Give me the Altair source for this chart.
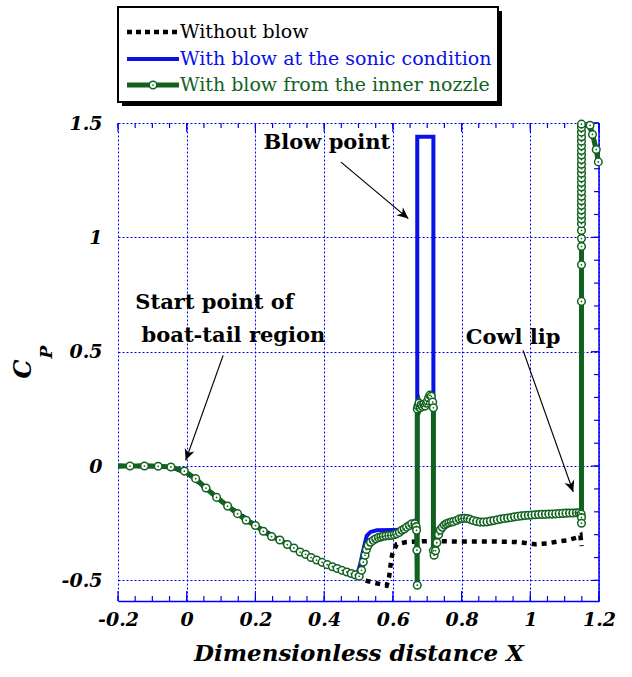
import altair as alt
import pandas as pd

# ---------------- data ----------------
# Without blow
nb_x = [-0.2, -0.1, -0.05, 0.0, 0.1, 0.2, 0.3, 0.4, 0.5, 0.519, 0.548, 0.582, 0.589, 0.593,
        0.598, 0.611, 0.64, 0.703, 0.8, 0.9, 0.96, 0.985, 1.014, 1.05, 1.08, 1.106, 1.135, 1.146, 1.149]
nb_y = [0.0, 0.0, -0.004, -0.028, -0.152, -0.26, -0.35, -0.426, -0.482, -0.5, -0.511, -0.523, -0.485, -0.437,
        -0.387, -0.342, -0.332, -0.328, -0.33, -0.33, -0.332, -0.336, -0.342, -0.338, -0.33, -0.325, -0.313, -0.303, -0.35]

# With blow at the sonic condition
sb_x = [-0.2, -0.1, -0.05, 0.0, 0.1, 0.2, 0.3, 0.4, 0.495, 0.505, 0.515, 0.524, 0.535, 0.553, 0.6,
        0.62, 0.635, 0.65, 0.662, 0.671, 0.671, 0.718, 0.718, 0.725, 0.732, 0.747, 0.762, 0.78, 0.8, 0.82,
        0.85, 0.9, 0.95, 1.0, 1.05, 1.1, 1.147, 1.149, 1.149, 1.17, 1.185, 1.2]
sb_y = [0.0, 0.0, -0.004, -0.028, -0.152, -0.26, -0.35, -0.426, -0.478, -0.43, -0.36, -0.305, -0.288, -0.281, -0.28,
        -0.279, -0.274, -0.258, -0.24, -0.235, 1.44, 1.44, -0.31, -0.29, -0.274, -0.249, -0.24, -0.233, -0.228, -0.23,
        -0.24, -0.236, -0.223, -0.215, -0.21, -0.206, -0.204, -0.22, 1.495, 1.49, 1.43, 1.33]

# With blow from the inner nozzle
gn_x = [-0.2, -0.165, -0.123, -0.083, -0.046, -0.007, 0.026, 0.056, 0.087, 0.119, 0.148, 0.173, 0.2,
        0.223, 0.247, 0.271, 0.293, 0.312, 0.33, 0.346, 0.362, 0.378, 0.394, 0.409, 0.424, 0.438,
        0.452, 0.466, 0.479, 0.491, 0.502, 0.509, 0.514, 0.519, 0.523, 0.528, 0.535, 0.543,
        0.55, 0.558, 0.565, 0.572, 0.58, 0.588, 0.596, 0.604, 0.611, 0.619, 0.626, 0.633, 0.64,
        0.648, 0.655, 0.664, 0.668, 0.669, 0.67, 0.671, 0.671, 0.673, 0.676, 0.679, 0.682, 0.686,
        0.69, 0.694, 0.698, 0.701, 0.704, 0.708, 0.712, 0.716, 0.718, 0.718, 0.72, 0.724, 0.728,
        0.733, 0.738, 0.744, 0.75, 0.756, 0.763, 0.77, 0.777, 0.785, 0.793, 0.801, 0.809, 0.817,
        0.825, 0.834, 0.844, 0.854, 0.864, 0.874, 0.884, 0.894, 0.904, 0.914, 0.924, 0.934, 0.944,
        0.954, 0.964, 0.974, 0.984, 0.994, 1.004, 1.014, 1.024, 1.034, 1.044, 1.054, 1.064, 1.074,
        1.084, 1.094, 1.104, 1.114, 1.124, 1.134, 1.142, 1.148, 1.149, 1.149,
        1.149, 1.149, 1.149, 1.149, 1.149, 1.149, 1.149, 1.149, 1.149, 1.149, 1.149, 1.149, 1.149,
        1.149, 1.149, 1.149, 1.149, 1.149, 1.149, 1.149, 1.149, 1.149, 1.149, 1.149, 1.149, 1.149,
        1.149, 1.149, 1.174, 1.181, 1.192, 1.198]
gn_y = [0.0, 0.0, 0.0, -0.001, -0.004, -0.022, -0.055, -0.096, -0.137, -0.175, -0.208, -0.237, -0.26,
        -0.285, -0.308, -0.323, -0.343, -0.358, -0.376, -0.386, -0.4, -0.411, -0.421, -0.431, -0.44, -0.448,
        -0.456, -0.463, -0.47, -0.476, -0.482, -0.456, -0.42, -0.39, -0.365, -0.347, -0.333, -0.325,
        -0.318, -0.313, -0.31, -0.307, -0.305, -0.304, -0.303, -0.3, -0.296, -0.29, -0.281, -0.275, -0.267,
        -0.26, -0.252, -0.252, -0.265, -0.281, -0.368, -0.521, 0.25, 0.262, 0.275, 0.255, 0.268, 0.26,
        0.27, 0.263, 0.275, 0.285, 0.298, 0.31, 0.305, 0.28, 0.255, -0.37, -0.39, -0.37, -0.335,
        -0.3, -0.28, -0.268, -0.258, -0.252, -0.248, -0.245, -0.243, -0.238, -0.232, -0.229, -0.228, -0.229,
        -0.233, -0.238, -0.242, -0.245, -0.245, -0.244, -0.241, -0.238, -0.235, -0.232, -0.229, -0.227, -0.225,
        -0.222, -0.22, -0.218, -0.216, -0.215, -0.214, -0.213, -0.212, -0.211, -0.211, -0.21, -0.21, -0.209,
        -0.208, -0.207, -0.206, -0.205, -0.205, -0.204, -0.204, -0.21, -0.225, -0.25,
        0.72, 0.88, 0.96, 0.995, 1.03, 1.06, 1.08, 1.10, 1.12, 1.14, 1.16, 1.18, 1.20,
        1.22, 1.24, 1.26, 1.28, 1.30, 1.32, 1.34, 1.36, 1.38, 1.40, 1.42, 1.44, 1.46,
        1.48, 1.495, 1.49, 1.45, 1.384, 1.33]

series_labels = ["Without blow", "With blow at the sonic condition", "With blow from the inner nozzle"]
series_colors = ["#000000", "#0a10e8", "#12621f"]

x_major = [-0.2, 0, 0.2, 0.4, 0.6, 0.8, 1, 1.2]
y_major = [-0.5, 0, 0.5, 1, 1.5]
x_minor = [round(-0.2 + 0.05 * i, 2) for i in range(29)]
y_minor = [round(-0.5 + 0.1 * i, 1) for i in range(21)]

# annotations (data coordinates)
ann_text = ["Blow point", "Start point of", "boat-tail region", "Cowl lip"]
ann_tx = [0.408, 0.081, 0.136, 0.95]
ann_ty = [1.411, 0.712, 0.567, 0.559]
arr_x = [0.449, 0.106, 0.979]
arr_y = [1.329, 0.484, 0.506]
arr_x2 = [0.645, -0.003, 1.125]
arr_y2 = [1.082, 0.025, -0.113]
arr_ang = [130, 200, 160]

W, H = 481, 478
BLUE = "#0000ff"
SERIF = "DejaVu Serif"

xs = alt.Scale(domain=[-0.2, 1.2], nice=False, zero=False)
ys = alt.Scale(domain=[-0.59, 1.5], nice=False, zero=False)


def df_series(xv, yv):
    return pd.DataFrame({"x": xv, "y": yv, "i": list(range(len(xv)))})


nb_df = df_series(nb_x, nb_y)
sb_df = df_series(sb_x, sb_y)
gn_df = df_series(gn_x, gn_y)

X = alt.X("x:Q", scale=xs, axis=alt.Axis(
    values=x_major, labelExpr="datum.value + ''", ticks=False,
    domainColor=BLUE, domainWidth=1.5, grid=True, gridColor=BLUE, gridDash=[2, 2], gridWidth=1,
    labelFont=SERIF, labelFontWeight="bold", labelFontStyle="italic", labelFontSize=19,
    labelColor="black", labelPadding=9, labelFlush=False,
    title="Dimensionless distance X", titleFont=SERIF, titleFontWeight="bold",
    titleFontStyle="italic", titleFontSize=23, titleColor="black", titlePadding=13))
Y = alt.Y("y:Q", scale=ys, axis=alt.Axis(
    values=y_major, labelExpr="datum.value + ''", ticks=False, domain=False,
    grid=True, gridColor=BLUE, gridDash=[2, 2], gridWidth=1,
    labelFont=SERIF, labelFontWeight="bold", labelFontStyle="italic", labelFontSize=19,
    labelColor="black", labelPadding=16, title=None))

base_axes = alt.Chart(nb_df).mark_line(opacity=0).encode(x=X, y=Y)

line_nb = alt.Chart(nb_df).mark_line(color=series_colors[0], strokeWidth=4.5, strokeDash=[5, 5]).encode(
    x=alt.X("x:Q", scale=xs), y=alt.Y("y:Q", scale=ys), order="i:Q")
line_sb = alt.Chart(sb_df).mark_line(color=series_colors[1], strokeWidth=4).encode(
    x=alt.X("x:Q", scale=xs), y=alt.Y("y:Q", scale=ys), order="i:Q")
line_gn = alt.Chart(gn_df).mark_line(color=series_colors[2], strokeWidth=5).encode(
    x=alt.X("x:Q", scale=xs), y=alt.Y("y:Q", scale=ys), order="i:Q")
mk_gn = alt.Chart(gn_df).transform_filter("datum.x > -0.19").mark_point(
    shape="circle", size=58, filled=True, fill="white", stroke=series_colors[2], strokeWidth=1.5, opacity=1).encode(
    x=alt.X("x:Q", scale=xs), y=alt.Y("y:Q", scale=ys))
dot_gn = alt.Chart(gn_df).transform_filter("datum.x > -0.19").mark_point(
    shape="circle", size=3, filled=True, color=series_colors[2], opacity=1).encode(
    x=alt.X("x:Q", scale=xs), y=alt.Y("y:Q", scale=ys))

# ticks (inward) on bottom, top and right
tick_xmin = pd.DataFrame({"x": x_minor})
tick_xmaj = pd.DataFrame({"x": x_major})
tick_ymin = pd.DataFrame({"y": y_minor})
tick_ymaj = pd.DataFrame({"y": y_major})
tk = dict(color=BLUE, strokeWidth=1.2)
ticks = [
    alt.Chart(tick_xmin).mark_rule(**tk).encode(x=alt.X("x:Q", scale=xs), y=alt.value(H), y2=alt.value(H - 5)),
    alt.Chart(tick_xmaj).mark_rule(**tk).encode(x=alt.X("x:Q", scale=xs), y=alt.value(H), y2=alt.value(H - 10)),
    alt.Chart(tick_xmin).mark_rule(**tk).encode(x=alt.X("x:Q", scale=xs), y=alt.value(0), y2=alt.value(5)),
    alt.Chart(tick_xmaj).mark_rule(**tk).encode(x=alt.X("x:Q", scale=xs), y=alt.value(0), y2=alt.value(9)),
    alt.Chart(tick_ymin).mark_rule(**tk).encode(y=alt.Y("y:Q", scale=ys), x=alt.value(W), x2=alt.value(W - 5)),
    alt.Chart(tick_ymaj).mark_rule(**tk).encode(y=alt.Y("y:Q", scale=ys), x=alt.value(W), x2=alt.value(W - 8)),
]
one = pd.DataFrame({"a": [0]})
right_edge = alt.Chart(one).mark_rule(color=BLUE, strokeWidth=1.5).encode(
    x=alt.value(W), y=alt.value(0), y2=alt.value(H))

# annotations
ann_df = pd.DataFrame({"x": ann_tx, "y": ann_ty, "t": ann_text})
ann = alt.Chart(ann_df).mark_text(font=SERIF, fontWeight="bold", fontSize=21, color="black").encode(
    x=alt.X("x:Q", scale=xs), y=alt.Y("y:Q", scale=ys), text="t:N")
arr_df = pd.DataFrame({"x": arr_x, "y": arr_y, "x2": arr_x2, "y2": arr_y2, "a": arr_ang})
shafts = alt.Chart(arr_df).mark_rule(color="black", strokeWidth=1.2).encode(
    x=alt.X("x:Q", scale=xs), y=alt.Y("y:Q", scale=ys), x2="x2:Q", y2="y2:Q")
heads = alt.Chart(arr_df).mark_point(
    shape="M0,0L-0.45,1L0,0.7L0.45,1Z", size=520, filled=True, color="black", opacity=1).encode(
    x=alt.X("x2:Q", scale=xs), y=alt.Y("y2:Q", scale=ys), angle=alt.Angle("a:Q", scale=None))

# C_P y title
cp_c = alt.Chart(one).mark_text(text="C", font=SERIF, fontWeight="bold", fontStyle="italic", fontSize=24,
                                angle=270, baseline="middle", color="black").encode(
    x=alt.value(-94), y=alt.value(246))
cp_p = alt.Chart(one).mark_text(text="P", font=SERIF, fontWeight="bold", fontStyle="italic", fontSize=17,
                                angle=270, baseline="middle", color="black").encode(
    x=alt.value(-71), y=alt.value(229))

# legend
leg = [
    alt.Chart(one).mark_rect(fill="black").encode(x=alt.value(4), x2=alt.value(384), y=alt.value(-112), y2=alt.value(-17)),
    alt.Chart(one).mark_rect(fill="white", stroke="black", strokeWidth=2).encode(
        x=alt.value(0), x2=alt.value(380), y=alt.value(-116), y2=alt.value(-21)),
    alt.Chart(one).mark_rule(color=series_colors[0], strokeWidth=4.5, strokeDash=[5, 4]).encode(
        x=alt.value(9), x2=alt.value(61), y=alt.value(-91)),
    alt.Chart(one).mark_rule(color=series_colors[1], strokeWidth=4).encode(
        x=alt.value(9), x2=alt.value(61), y=alt.value(-64)),
    alt.Chart(one).mark_rule(color=series_colors[2], strokeWidth=5).encode(
        x=alt.value(9), x2=alt.value(61), y=alt.value(-38)),
    alt.Chart(one).mark_point(shape="circle", size=58, filled=True, fill="white", stroke=series_colors[2],
                              strokeWidth=1.5, opacity=1).encode(x=alt.value(35), y=alt.value(-38)),
    alt.Chart(one).mark_point(shape="circle", size=3, filled=True, color=series_colors[2], opacity=1).encode(
        x=alt.value(35), y=alt.value(-38)),
]
for lab, col, yy in zip(series_labels, series_colors, [-91, -64, -38]):
    leg.append(alt.Chart(one).mark_text(text=lab, font=SERIF, fontSize=19, color=col, align="left",
                                        baseline="middle").encode(x=alt.value(62), y=alt.value(yy)))

chart = alt.layer(
    base_axes, *ticks, right_edge, line_nb, line_sb, line_gn, mk_gn, dot_gn,
    shafts, heads, ann, cp_c, cp_p, *leg
).properties(
    width=W, height=H, autosize="none",
    padding={"left": 118, "top": 123, "right": 33, "bottom": 76},
).configure_view(stroke=None)

chart.save("out.html", embed_options={"renderer": "svg", "actions": False})
